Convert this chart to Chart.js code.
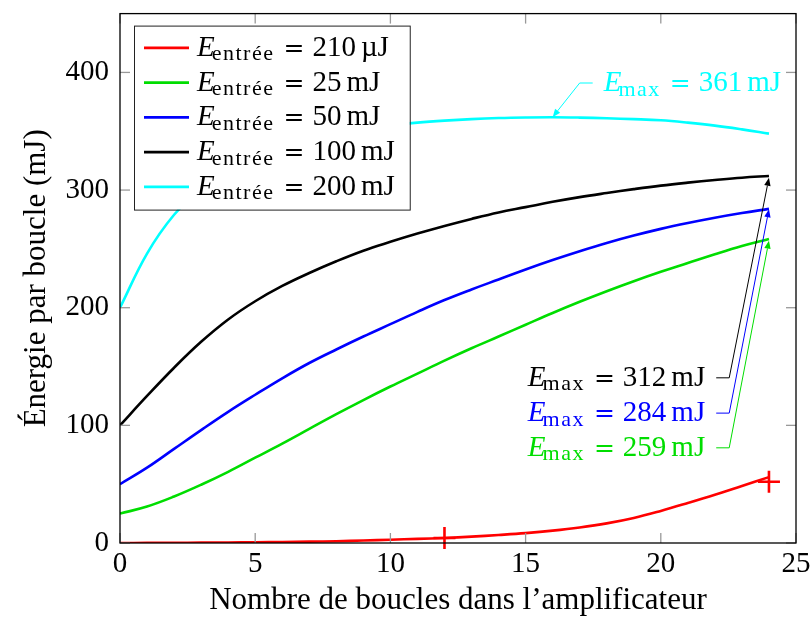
<!DOCTYPE html>
<html>
<head>
<meta charset="utf-8">
<script src="https://cdn.jsdelivr.net/npm/chart.js@4.4.1/dist/chart.umd.min.js"></script>
<style>
html,body{margin:0;padding:0;background:#fff;}
#wrap{width:811px;height:619px;}
</style>
</head>
<body>
<div id="wrap"><canvas id="c" width="811" height="619"></canvas></div>
<script>
// ---- data ----
const loops   = [0,1,2,3,4,5,6,7,8,9,10,11,12,13,14,15,16,17,18,19,20,21,22,23,24];
const e210uJ  = [0,0.1,0.2,0.3,0.45,0.6,0.85,1.15,1.55,2.1,2.8,3.5,4.3,5.4,6.8,8.4,10.5,13.2,16.7,21.3,27.3,34,41,48.5,56];
const e25mJ   = [25,31,39.5,49.5,60.5,72.5,84.5,97,109.5,121.5,133,144,155,165.5,175.5,185.5,195.5,205,214,222.5,230.5,238,245.5,252.5,258.5];
const e50mJ   = [50,64,80,96,111.5,126,140,153,164.5,175.5,186,196.5,206.5,215.5,224,232.5,240.5,248,255,261.3,267,272,276.5,280.5,284];
const e100mJ  = [100,125,149,171,190,205.5,218.5,229.5,239.5,248.5,256,263,269.5,275.5,281,285.5,290,294,297.5,300.8,303.8,306.3,308.5,310.5,312];
const e200mJ  = [200,246,279,301,317,329,337,343.5,348.5,352,355,357.3,359,360.3,361.2,361.7,361.9,361.6,361,360.3,359.3,357.3,354.8,351.6,348];
const markLoops  = [12, 24];
const markValues = [4.3, 52];

const inputValues = ['210','25','50','100','200'];
const inputUnits  = ['µJ','mJ','mJ','mJ','mJ'];
const seriesColors = ['#ff0000','#00dd00','#0000ff','#000000','#00ffff'];

const xTicks = [0,5,10,15,20,25];
const yTicks = [0,100,200,300,400];

// E_max annotations
const emaxValues = ['361','312','284','259'];
const emaxSeries = [4,3,2,1];
const emaxTipX   = [16,24,24,24];
const emaxTipY   = [362,310.5,283.7,257];
const emaxElbowX = [17,22.53,22.53,22.53];
const emaxElbowY = [391,140.4,110.4,80.9];
const emaxSide   = ['right','left','left','left'];

// ---- helpers ----
const FAMILY = '"Liberation Serif", "DejaVu Serif", serif';
const FONTS = {it:'italic 29px '+FAMILY, rm:'29px '+FAMILY, sub:'22px '+FAMILY, eq:'25px "DejaVu Serif"'};
const SUB_SPACING = '1.5px';
function eqParts(sub, value, unit){
  return [{s:'it',t:'E'},{gap:-3},{s:'sub',t:sub},{gap:9},{s:'eq',t:'='},{gap:8},{s:'rm',t:value},{gap:5},{s:'rm',t:unit}];
}
function partWidth(ctx,p){
  if (p.gap !== undefined) return p.gap;
  ctx.font = FONTS[p.s];
  ctx.letterSpacing = p.s==='sub' ? SUB_SPACING : '0px';
  const w = ctx.measureText(p.t).width;
  ctx.letterSpacing = '0px';
  return w;
}
function mathWidth(ctx, parts){ return parts.reduce((w,p)=>w+partWidth(ctx,p),0); }
function drawMath(ctx, parts, x, baseline, align, color){
  const total = mathWidth(ctx, parts);
  let cx = align==='right' ? x-total : x;
  ctx.fillStyle = color; ctx.textBaseline = 'alphabetic'; ctx.textAlign = 'left';
  parts.forEach(p=>{
    const w = partWidth(ctx,p);
    if (p.t !== undefined){
      ctx.font = FONTS[p.s];
      ctx.letterSpacing = p.s==='sub' ? SUB_SPACING : '0px';
      ctx.fillText(p.t, cx, baseline + (p.s==='sub' ? 4.5 : 0));
      ctx.letterSpacing = '0px';
    }
    cx += w;
  });
  return total;
}
function seg(ctx,x1,y1,x2,y2){ctx.beginPath();ctx.moveTo(x1,y1);ctx.lineTo(x2,y2);ctx.stroke();}

const decorPlugin = {
  id:'decor',
  afterDatasetsDraw(chart){
    const {ctx, chartArea:a, scales:{x,y}} = chart;
    ctx.save();
    // inner tick marks on all four sides
    ctx.strokeStyle = '#999999'; ctx.lineWidth = 1.3;
    xTicks.forEach(v=>{const px=x.getPixelForValue(v); seg(ctx,px,a.bottom,px,a.bottom-10); seg(ctx,px,a.top,px,a.top+10);});
    yTicks.forEach(v=>{const py=y.getPixelForValue(v); seg(ctx,a.left,py,a.left+10,py); seg(ctx,a.right,py,a.right-10,py);});
    // frame
    ctx.strokeStyle = '#000'; ctx.lineWidth = 1.3;
    ctx.strokeRect(a.left, a.top, a.right-a.left, a.bottom-a.top);

    // annotations
    emaxValues.forEach((v,i)=>{
      const col = seriesColors[emaxSeries[i]];
      const tx = x.getPixelForValue(emaxTipX[i]), ty = y.getPixelForValue(emaxTipY[i]);
      const ex = x.getPixelForValue(emaxElbowX[i]), ey = y.getPixelForValue(emaxElbowY[i]);
      ctx.strokeStyle = col; ctx.fillStyle = col; ctx.lineWidth = 1;
      const dir = emaxSide[i]==='right' ? 1 : -1;
      seg(ctx, ex, ey, ex+dir*13, ey);
      const ang = Math.atan2(ty-ey, tx-ex);
      const L = 8, H = 3.2;
      const bx = tx - L*Math.cos(ang), by = ty - L*Math.sin(ang);
      seg(ctx, ex, ey, bx, by);
      ctx.beginPath();
      ctx.moveTo(tx,ty);
      ctx.lineTo(bx + H*Math.sin(ang), by - H*Math.cos(ang));
      ctx.lineTo(bx - H*Math.sin(ang), by + H*Math.cos(ang));
      ctx.closePath(); ctx.fill();
      const parts = eqParts('max', v, 'mJ');
      if (dir===1) drawMath(ctx, parts, ex+24, ey+8, 'left', col);
      else drawMath(ctx, parts, ex-24, ey+8, 'right', col);
    });

    // legend
    const allParts = inputValues.map((v,i)=>eqParts('entrée', v, inputUnits[i]));
    const maxW = Math.max(...allParts.map(p=>mathWidth(ctx,p)));
    const lx = a.left + 14, ly = a.top + 12;
    const bw = 63 + maxW + 15, bh = 184;
    ctx.fillStyle = '#fff'; ctx.fillRect(lx, ly, bw, bh);
    ctx.strokeStyle = '#222'; ctx.lineWidth = 1; ctx.strokeRect(lx+0.5, ly+0.5, bw, bh);
    allParts.forEach((parts,i)=>{
      const rowY = a.top + 34.3 + i*34.75;
      ctx.strokeStyle = seriesColors[i]; ctx.lineWidth = 2.6;
      seg(ctx, lx+10, rowY, lx+55, rowY);
      drawMath(ctx, parts, lx+63, rowY+8, 'left', '#000');
    });
    ctx.restore();
  }
};

const mk = (arr)=>loops.map((l,i)=>({x:l, y:arr[i]}));
const seriesData = [e210uJ, e25mJ, e50mJ, e100mJ, e200mJ];
const datasets = seriesData.map((arr,i)=>({
  label: 'E_entrée = ' + inputValues[i] + ' ' + inputUnits[i],
  data: mk(arr),
  borderColor: seriesColors[i],
  backgroundColor: seriesColors[i],
  borderWidth: 2.6,
  pointRadius: 0,
  tension: 0.4,
  fill: false
}));
datasets.push({
  label: 'mesures',
  data: markLoops.map((l,i)=>({x:l, y:markValues[i]})),
  showLine: false,
  clip: false,
  pointStyle: 'cross',
  pointRadius: 11,
  borderColor: '#ff0000',
  borderWidth: 2.6,
  backgroundColor: '#ff0000'
});

Chart.defaults.font.family = FAMILY;
Chart.defaults.color = '#000';

new Chart(document.getElementById('c'), {
  type: 'line',
  data: { datasets },
  options: {
    responsive: false,
    animation: false,
    devicePixelRatio: 1,
    layout: { padding: { top: 9, right: 15, left: 0, bottom: 0 } },
    plugins: { legend: { display: false }, tooltip: { enabled: false } },
    scales: {
      x: {
        type: 'linear', min: 0, max: 25,
        afterFit: s => { s.height = 76; s.paddingLeft = 0; s.paddingRight = 0; },
        afterBuildTicks: s => { s.ticks = xTicks.map(v=>({value:v})); },
        grid: { display: false, drawTicks: false },
        border: { display: false },
        ticks: { font: { size: 29 }, padding: 4, maxRotation: 0, autoSkip: false },
        title: { display: true, text: 'Nombre de boucles dans l’amplificateur', font: { size: 31 }, padding: { top: 0, bottom: 0 } }
      },
      y: {
        type: 'linear', min: 0, max: 450,
        afterFit: s => { s.width = 120; s.paddingTop = 0; s.paddingBottom = 0; },
        afterBuildTicks: s => { s.ticks = yTicks.map(v=>({value:v})); },
        grid: { display: false, drawTicks: false },
        border: { display: false },
        ticks: { font: { size: 29 }, padding: 11, autoSkip: false },
        title: { display: true, text: 'Énergie par boucle (mJ)', font: { size: 31 }, padding: { top: 18, bottom: 0 } }
      }
    }
  },
  plugins: [decorPlugin]
});
</script>
</body>
</html>
